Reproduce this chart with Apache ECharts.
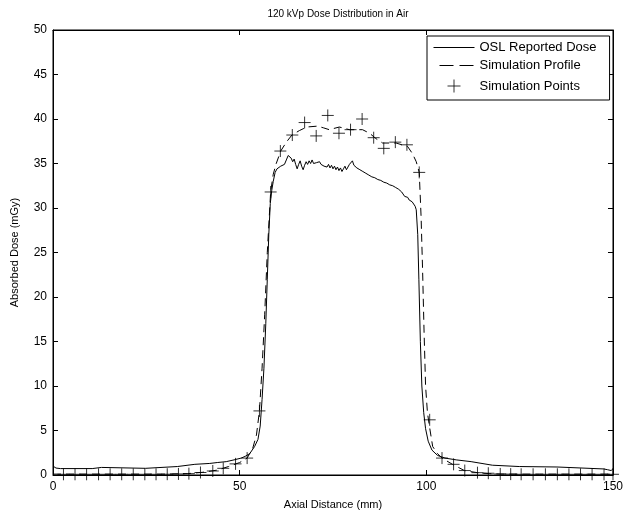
<!DOCTYPE html>
<html>
<head>
<meta charset="utf-8">
<title>120 kVp Dose Distribution in Air</title>
<script src="https://cdn.jsdelivr.net/npm/echarts@6/dist/echarts.min.js"></script>
<style>
  html, body { margin: 0; padding: 0; background: #fff; }
  #chart { width: 626px; height: 516px; }
</style>
</head>
<body>
<div id="chart"></div>
<script>
// OSL reported dose (mGy) along the axial distance (mm)
const oslDistance = [
  0, 0.8, 2, 10.5, 10.8, 13, 13.3, 24.8, 25, 33.3, 33.5, 38, 42, 44, 46.4, 48.5, 50.4, 51.5, 52.7, 54,
  54.9, 55.5, 56, 56.5, 57, 57.4, 57.8, 58.2, 58.6, 59, 59.5, 60, 60.5, 61, 61.5, 62, 62.5, 63, 63.4, 63.8,
  64.2, 64.6, 65, 65.4, 65.8, 66.2, 66.6, 67, 67.4, 67.8, 68.2, 68.6, 69, 69.4, 69.8, 70.2, 70.6, 71, 71.4, 71.8,
  72.2, 72.6, 73, 73.4, 73.8, 74.2, 74.6, 75, 75.4, 75.8, 76.2, 76.6, 77, 77.4, 77.8, 78.2, 78.6, 79, 79.4, 79.8,
  80.2, 80.6, 81, 81.4, 81.8, 82.2, 82.6, 83, 83.4, 83.8, 84.2, 84.6, 85, 85.4, 85.8, 86.2, 86.6, 87, 87.4, 87.8,
  88.2, 88.6, 89, 89.4, 89.8, 90.2, 90.6, 91, 91.4, 91.8, 92.2, 92.6, 93, 93.4, 93.8, 94.2, 94.6, 95, 95.4, 95.8,
  96.2, 96.6, 97, 97.3, 97.7, 98, 98.4, 98.8, 99.3, 99.8, 100.5, 101.5, 103, 105, 108, 112, 117.7, 124.9, 135, 135.2,
  147.5, 148.5, 149.5, 150
];
const oslDose = [
  1.0, 0.78, 0.72, 0.72, 0.85, 0.85, 0.75, 0.75, 0.95, 0.95, 1.15, 1.2, 1.3, 1.4, 1.5, 1.7, 1.9, 2.1, 2.4, 3.2,
  4.0, 5.5, 8.5, 12, 17, 22, 27, 30.5, 32.0, 33.0, 34.0, 34.4, 34.3, 34.7, 34.5, 34.9, 35.4, 35.9, 36.1, 35.6,
  35.2, 35.5, 34.9, 34.4, 34.9, 35.3, 34.7, 34.3, 34.8, 35.2, 34.9, 35.3, 35.0, 35.4, 35.0, 34.8, 35.1, 34.9, 35.2, 34.9,
  35.0, 34.7, 34.9, 34.6, 34.9, 34.5, 34.8, 34.4, 34.7, 34.3, 34.6, 34.2, 34.5, 34.1, 34.4, 34.7, 34.3, 34.6, 34.9, 35.0,
  35.3, 34.8, 35.0, 34.5, 34.7, 34.3, 34.5, 34.1, 34.3, 33.9, 34.1, 33.7, 33.9, 33.5, 33.7, 33.4, 33.6, 33.2, 33.4, 33.1,
  33.3, 32.9, 33.1, 32.8, 32.9, 32.6, 32.8, 32.5, 32.7, 32.3, 32.5, 32.1, 32.2, 31.8, 31.9, 31.3, 31.1, 31.2, 30.9, 31.0,
  30.7, 30.5, 30.2, 29.8, 27, 22, 15, 10, 7, 5.2, 3.8, 2.8, 2.2, 1.9, 1.7, 1.5, 1.1, 0.95, 0.9, 0.7,
  0.68, 0.6, 0.5, 0.7
];

// Simulated dose profile (smooth curve)
const profileDistance = [
  0, 30, 36, 40, 44, 47, 50, 52, 53.5, 54.5, 55.3, 56, 56.7, 57.4, 58.3, 59, 59.8, 61, 62.5, 64,
  66, 68, 70.9, 72.5, 74, 76.7, 79.4, 82.9, 84.8, 86.5, 88.3, 91.9, 95, 96.3, 97.3, 98.1, 98.6, 99, 99.4, 99.8,
  100.3, 100.9, 101.7, 103, 104.2, 107, 110.2, 113.7, 117, 120, 150
];
const profileDose = [
  0.1, 0.1, 0.15, 0.3, 0.55, 0.95, 1.4, 1.9, 3.0, 4.5, 7.2, 12, 18, 25, 31.8, 33.8, 35.0, 36.4, 37.4, 38.2,
  38.7, 39.1, 39.2, 39.0, 38.8, 39.1, 38.8, 38.8, 38.4, 37.8, 37.3, 37.3, 36.9, 36.1, 35.2, 34.0, 29, 23, 16, 10,
  7, 5.3, 3.2, 2.4, 1.9, 1.2, 0.5, 0.26, 0.15, 0.1, 0.1
];

// Simulated dose at discrete positions
const pointDistance = [
  2.8, 5.9, 9.0, 12.2, 15.3, 18.4, 21.5, 24.6, 27.6, 30.6, 33.6, 36.4, 39.5, 42.8, 45.6, 48.9, 52.0,
  55.3, 58.3, 60.9, 64.1, 67.4, 70.5, 73.6, 76.6, 79.7, 82.8, 85.9, 88.6, 91.7, 94.8, 98.1, 100.9,
  104.2, 107.3, 110.3, 113.7, 116.6, 119.8, 122.6, 125.4, 128.6, 131.9, 135.1, 138.2, 141.3, 144.4, 147.6, 150.0
];
const pointDose = [
  0.08, 0.08, 0.08, 0.08, 0.08, 0.08, 0.08, 0.08, 0.08, 0.09, 0.12, 0.15, 0.28, 0.45, 0.75, 1.25, 1.9,
  7.2, 31.8, 36.4, 38.2, 39.6, 38.1, 40.4, 38.4, 38.8, 40.0, 37.9, 36.7, 37.4, 37.1, 34.0, 6.2,
  1.9, 1.2, 0.5, 0.26, 0.2, 0.12, 0.1, 0.08, 0.08, 0.08, 0.08, 0.08, 0.08, 0.08, 0.08, 0.08
];

const seriesNames = ['OSL Reported Dose', 'Simulation Profile', 'Simulation Points'];
const titleText = '120 kVp Dose Distribution in Air';
const xAxisTitle = 'Axial Distance (mm)';
const yAxisTitle = 'Absorbed Dose (mGy)';

const pair = (xs, ys) => xs.map((x, i) => [x, ys[i]]);

const FONT = '"Liberation Sans", Arial, sans-serif';
const BLACK = '#000';
const plusSymbol = 'path://M0,6L12,6M6,0L6,12';

const tickStyle = { show: true, inside: true, length: 5, lineStyle: { color: BLACK, width: 1 } };
const lineAxis = { show: true, onZero: false, lineStyle: { color: BLACK, width: 1 } };
const labelStyle = { color: BLACK, fontSize: 12, fontFamily: FONT };
// line entries in the legend show only the line sample, no marker
const hiddenMarker = { opacity: 0, borderWidth: 0 };

const chart = echarts.init(document.getElementById('chart'), null, { renderer: 'canvas' });

chart.setOption({
  animation: false,
  backgroundColor: '#fff',
  title: {
    text: titleText,
    left: 333,
    top: 4,
    textAlign: 'center',
    textStyle: { color: BLACK, fontSize: 10, fontWeight: 'normal', fontFamily: FONT }
  },
  legend: {
    data: [
      { name: seriesNames[0], itemStyle: hiddenMarker, lineStyle: { width: 1, type: 'solid' } },
      { name: seriesNames[1], itemStyle: hiddenMarker, lineStyle: { width: 1, type: [14, 6], dashOffset: 14 } },
      { name: seriesNames[2] }
    ],
    orient: 'vertical',
    left: 427,
    top: 36,
    padding: [5, 13, 5, 6],
    itemWidth: 41,
    itemHeight: 13,
    itemGap: 5,
    borderColor: BLACK,
    borderWidth: 1,
    backgroundColor: '#fff',
    textStyle: { color: BLACK, fontSize: 13, fontFamily: FONT },
    lineStyle: { width: 1 },
    itemStyle: { borderWidth: 1 }
  },
  grid: {
    left: 53, right: 12, top: 30, bottom: 41,
    show: true, borderColor: BLACK, borderWidth: 1, backgroundColor: '#fff'
  },
  xAxis: [
    {
      type: 'value', min: 0, max: 150, interval: 50, position: 'bottom',
      axisLine: lineAxis, axisTick: tickStyle, splitLine: { show: false },
      axisLabel: Object.assign({ margin: 6 }, labelStyle),
      name: xAxisTitle, nameLocation: 'middle', nameGap: 24,
      nameTextStyle: { color: BLACK, fontSize: 11, fontFamily: FONT }
    },
    {
      type: 'value', min: 0, max: 150, interval: 50, position: 'top',
      axisLine: lineAxis, axisTick: tickStyle, splitLine: { show: false },
      axisLabel: { show: false }
    }
  ],
  yAxis: [
    {
      type: 'value', min: 0, max: 50, interval: 5, position: 'left',
      axisLine: lineAxis, axisTick: tickStyle, splitLine: { show: false },
      axisLabel: Object.assign({ margin: 6 }, labelStyle),
      name: yAxisTitle, nameLocation: 'middle', nameGap: 33,
      nameTextStyle: { color: BLACK, fontSize: 11, fontFamily: FONT }
    },
    {
      type: 'value', min: 0, max: 50, interval: 5, position: 'right',
      axisLine: lineAxis, axisTick: tickStyle, splitLine: { show: false },
      axisLabel: { show: false }
    }
  ],
  series: [
    {
      name: seriesNames[0],
      type: 'line',
      data: pair(oslDistance, oslDose),
      symbol: 'none',
      showSymbol: false,
      smooth: false,
      lineStyle: { color: BLACK, width: 1 },
      itemStyle: { color: BLACK },
      z: 3
    },
    {
      name: seriesNames[1],
      type: 'line',
      data: pair(profileDistance, profileDose),
      symbol: 'none',
      showSymbol: false,
      smooth: false,
      lineStyle: { color: BLACK, width: 1, type: [8, 5] },
      itemStyle: { color: BLACK },
      z: 3
    },
    {
      name: seriesNames[2],
      type: 'scatter',
      data: pair(pointDistance, pointDose),
      symbol: plusSymbol,
      symbolSize: 12,
      symbolKeepAspect: true,
      itemStyle: { color: 'none', borderColor: BLACK, borderWidth: 1 },
      z: 4
    }
  ]
});
</script>
</body>
</html>
